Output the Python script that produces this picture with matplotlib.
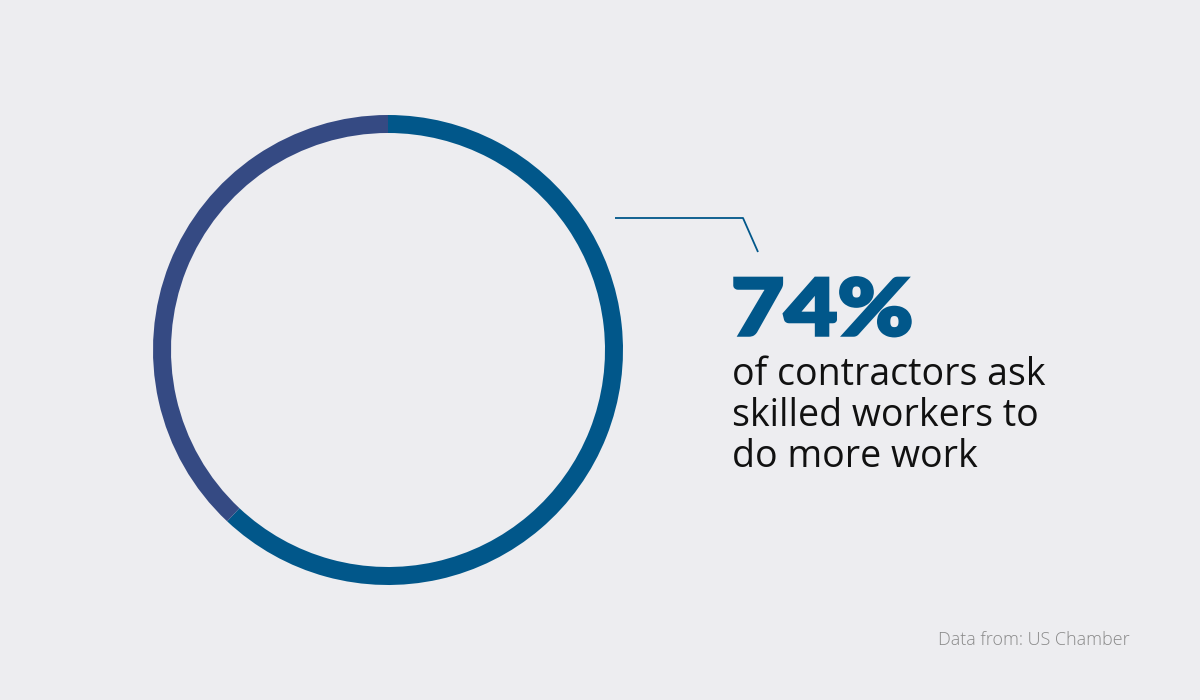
import matplotlib.pyplot as plt
from matplotlib.textpath import TextPath
from matplotlib.patches import PathPatch
from matplotlib.font_manager import FontProperties
from matplotlib.transforms import Affine2D

# ring shares as drawn in the picture (blue part, remainder)
shares = [62, 38]
ring_colors = ["#01578a", "#354a83"]
headline = "74%"
body_lines = ["of contractors ask", "skilled workers to", "do more work"]
source = "Data from: US Chamber"

bg = "#ededf0"
fig = plt.figure(figsize=(12, 7), dpi=100, facecolor=bg)
ax = fig.add_axes([0, 0, 1, 1])
ax.set_facecolor(bg)

ax.pie(shares, colors=ring_colors, center=(388, 350), radius=235,
       startangle=90, counterclock=False,
       wedgeprops=dict(width=18, linewidth=0))

ax.set_xlim(0, 1200)
ax.set_ylim(0, 700)
ax.set_aspect("equal")
ax.axis("off")

# leader line
ax.plot([615, 743, 758], [482, 482, 448], color="#01578a", lw=1.3,
        solid_capstyle="butt")

# big headline number, widened to look like a heavy wide face
tp = TextPath((0, 0), headline, size=78,
              prop=FontProperties(family="Lato", weight="black"))
bb = tp.get_extents()
sx = 175 / bb.width
tr = Affine2D().translate(-bb.x0, 0).scale(sx, 1).translate(735, 365)
ax.add_patch(PathPatch(tr.transform_path(tp), facecolor="#01578a",
                       edgecolor="#01578a", lw=2.5, joinstyle="miter"))

for i, line in enumerate(body_lines):
    ax.text(732, 315 - i * 41, line, fontsize=27, family="Open Sans",
            color="#111111", va="baseline", ha="left")

ax.text(1130, 60, source, fontsize=13, family="Open Sans",
        fontweight="light", color="#8a8a8a", va="center", ha="right")

fig.savefig("out.png", dpi=100, facecolor=bg)
